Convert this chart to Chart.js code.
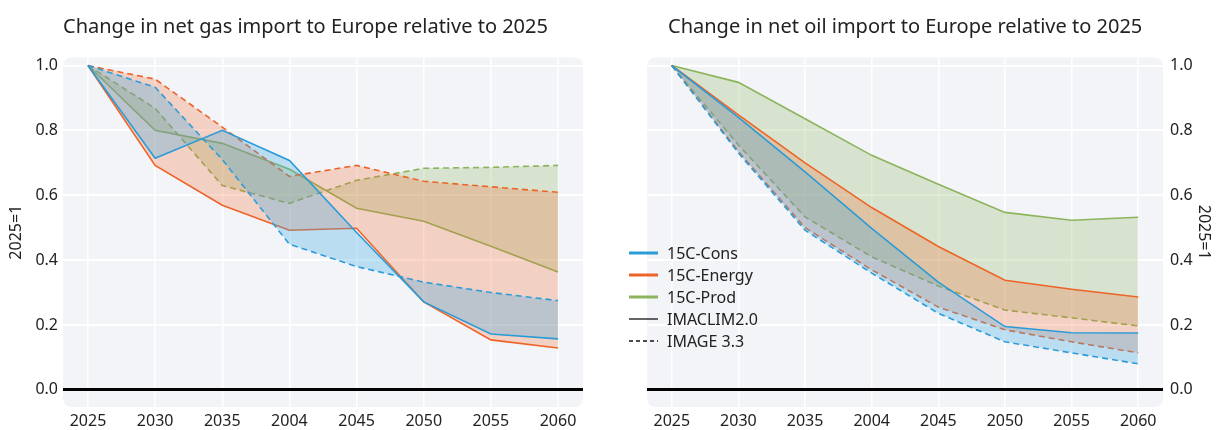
<!DOCTYPE html>
<html>
<head>
<meta charset="utf-8">
<script src="https://cdn.jsdelivr.net/npm/chart.js@4.4.1/dist/chart.umd.min.js"></script>
<style>
  html, body { margin: 0; padding: 0; background: #ffffff; }
  #wrap { position: relative; width: 1220px; height: 430px; }
  .box { position: absolute; top: 0; width: 610px; height: 430px; }
  #gasBox { left: 0; }
  #oilBox { left: 610px; }
</style>
</head>
<body>
<div id="wrap">
  <div class="box" id="gasBox"><canvas id="gas"></canvas></div>
  <div class="box" id="oilBox"><canvas id="oil"></canvas></div>
</div>
<script>
// Year labels along the x axis (as printed)
const years = ['2025', '2030', '2035', '2004', '2045', '2050', '2055', '2060'];
const yTicks = [0, 0.2, 0.4, 0.6, 0.8, 1.0];

// Net gas import, index 2025 = 1
const gasConsImaclim   = [1.0, 0.714, 0.800, 0.707, 0.485, 0.271, 0.172, 0.157];
const gasConsImage     = [1.0, 0.933, 0.710, 0.449, 0.380, 0.332, 0.300, 0.275];
const gasEnergyImaclim = [1.0, 0.692, 0.569, 0.492, 0.498, 0.271, 0.154, 0.129];
const gasEnergyImage   = [1.0, 0.958, 0.810, 0.658, 0.692, 0.643, 0.626, 0.609];
const gasProdImaclim   = [1.0, 0.800, 0.760, 0.680, 0.560, 0.520, 0.443, 0.363];
const gasProdImage     = [1.0, 0.868, 0.630, 0.575, 0.646, 0.683, 0.686, 0.692];

// Net oil import, index 2025 = 1
const oilConsImaclim   = [1.0, 0.840, 0.672, 0.498, 0.332, 0.195, 0.176, 0.175];
const oilConsImage     = [1.0, 0.730, 0.492, 0.360, 0.236, 0.148, 0.114, 0.080];
const oilEnergyImaclim = [1.0, 0.848, 0.700, 0.562, 0.442, 0.338, 0.310, 0.286];
const oilEnergyImage   = [1.0, 0.735, 0.500, 0.370, 0.255, 0.185, 0.148, 0.114];
const oilProdImaclim   = [1.0, 0.948, 0.836, 0.723, 0.634, 0.547, 0.523, 0.532];
const oilProdImage     = [1.0, 0.755, 0.533, 0.410, 0.320, 0.246, 0.222, 0.197];

const scenarios = ['15C-Cons', '15C-Energy', '15C-Prod'];
const models = ['IMACLIM2.0', 'IMAGE 3.3'];

const lineColors = ['#2b9bd8', '#ee6428', '#8cb45c'];
const fillColors = ['rgba(60,170,225,0.30)', 'rgba(238,100,40,0.25)', 'rgba(140,180,92,0.27)'];

const FONT = '"Noto Sans", "DejaVu Sans", sans-serif';
const TEXT = '#222222';
const PANEL = '#f3f4f8';

function pts(vals) {
  return vals.map((v, i) => ({ x: i, y: v }));
}

function buildDatasets(pairs) {
  const out = [];
  pairs.forEach((pair, s) => {
    out.push({
      label: scenarios[s] + ' ' + models[0],
      data: pts(pair[0]),
      borderColor: lineColors[s],
      backgroundColor: fillColors[s],
      borderWidth: 1.6,
      pointRadius: 0,
      tension: 0,
      fill: '+1'
    });
    out.push({
      label: scenarios[s] + ' ' + models[1],
      data: pts(pair[1]),
      borderColor: lineColors[s],
      backgroundColor: fillColors[s],
      borderWidth: 1.6,
      borderDash: [6, 4],
      pointRadius: 0,
      tension: 0,
      fill: false
    });
  });
  return out;
}

// Rounded panel behind the plotting area, plus the panel heading
const panelPlugin = {
  id: 'panel',
  beforeDraw(chart, args, opts) {
    const a = chart.chartArea, ctx = chart.ctx;
    ctx.save();
    ctx.fillStyle = PANEL;
    ctx.beginPath();
    ctx.roundRect(a.left, a.top, a.right - a.left, a.bottom - a.top, 8);
    ctx.fill();
    ctx.fillStyle = TEXT;
    ctx.font = '20px ' + FONT;
    ctx.textBaseline = 'middle';
    ctx.textAlign = 'left';
    ctx.fillText(opts.heading, a.left + opts.headingInset, 27);
    ctx.restore();
  }
};

// Legend listing scenarios (colour) and models (line style)
const legendPlugin = {
  id: 'scenarioLegend',
  afterDatasetsDraw(chart, args, opts) {
    if (!opts.show) return;
    const ctx = chart.ctx;
    const x0 = opts.x, y0 = opts.y, gap = 22;
    const items = [
      { text: scenarios[0], color: lineColors[0], w: 3, dash: [] },
      { text: scenarios[1], color: lineColors[1], w: 3, dash: [] },
      { text: scenarios[2], color: lineColors[2], w: 3, dash: [] },
      { text: models[0], color: '#111111', w: 1.3, dash: [] },
      { text: models[1], color: '#111111', w: 1.3, dash: [4, 3] }
    ];
    ctx.save();
    ctx.font = '16px ' + FONT;
    ctx.textBaseline = 'middle';
    items.forEach((it, i) => {
      const y = y0 + i * gap;
      ctx.beginPath();
      ctx.setLineDash(it.dash);
      ctx.strokeStyle = it.color;
      ctx.lineWidth = it.w;
      ctx.moveTo(x0, y);
      ctx.lineTo(x0 + 29, y);
      ctx.stroke();
      ctx.setLineDash([]);
      ctx.fillStyle = TEXT;
      ctx.fillText(it.text, x0 + 38, y + 1);
    });
    ctx.restore();
  }
};

function makeChart(id, title, pairs, side) {
  const isLeft = side === 'left';
  return new Chart(document.getElementById(id), {
    type: 'line',
    data: { datasets: buildDatasets(pairs) },
    plugins: [panelPlugin, legendPlugin],
    options: {
      responsive: true,
      maintainAspectRatio: false,
      animation: false,
      events: [],
      layout: { padding: { left: isLeft ? 0 : 37, right: isLeft ? 27 : 0, top: 57.4, bottom: 0 } },
      plugins: {
        legend: { display: false },
        tooltip: { enabled: false },
        title: { display: false },
        panel: { heading: title, headingInset: isLeft ? 0 : 21 },
        scenarioLegend: { show: !isLeft, x: 19, y: 253 }
      },
      scales: {
        x: {
          type: 'linear',
          min: -0.372,
          max: 7.372,
          afterBuildTicks(scale) { scale.ticks = years.map((_, i) => ({ value: i })); },
          afterFit(scale) { scale.height = 23; },
          grid: { color: '#ffffff', lineWidth: 1.5, drawTicks: false },
          border: { display: false },
          ticks: {
            color: TEXT,
            padding: 5,
            maxRotation: 0,
            autoSkip: false,
            font: { family: FONT, size: 16 },
            callback: (v) => years[v]
          }
        },
        y: {
          position: side,
          min: -0.053,
          max: 1.025,
          afterBuildTicks(scale) { scale.ticks = yTicks.map((v) => ({ value: v })); },
          afterFit(scale) { scale.width = isLeft ? 63 : 57; },
          grid: {
            drawTicks: false,
            color: (c) => (c.tick && c.tick.value === 0 ? '#000000' : '#ffffff'),
            lineWidth: (c) => (c.tick && c.tick.value === 0 ? 3 : 2)
          },
          border: { display: false },
          ticks: {
            color: TEXT,
            padding: isLeft ? 5 : 7,
            font: { family: FONT, size: 16 },
            callback: (v) => v.toFixed(1)
          },
          title: {
            display: true,
            text: '2025=1',
            color: TEXT,
            font: { family: FONT, size: 16 },
            padding: { top: 7, bottom: 0 }
          }
        }
      }
    }
  });
}

makeChart('gas', 'Change in net gas import to Europe relative to 2025', [
  [gasConsImaclim, gasConsImage],
  [gasEnergyImaclim, gasEnergyImage],
  [gasProdImaclim, gasProdImage]
], 'left');

makeChart('oil', 'Change in net oil import to Europe relative to 2025', [
  [oilConsImaclim, oilConsImage],
  [oilEnergyImaclim, oilEnergyImage],
  [oilProdImaclim, oilProdImage]
], 'right');
</script>
</body>
</html>
